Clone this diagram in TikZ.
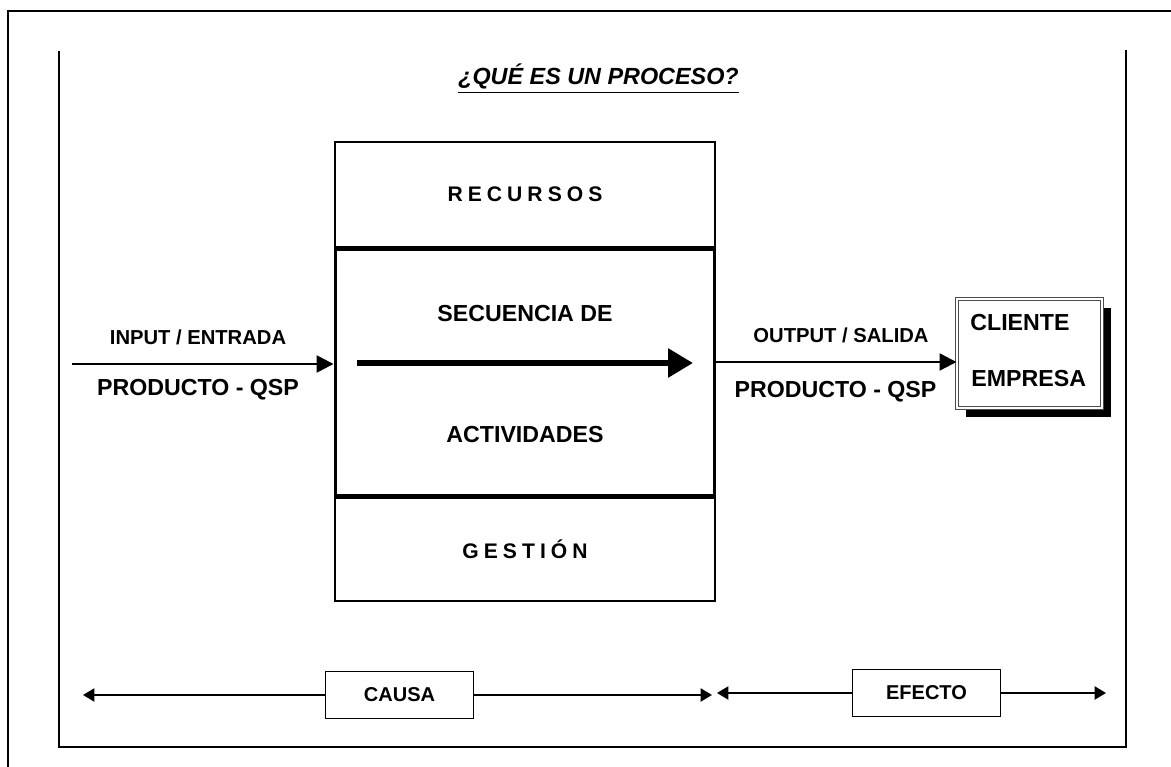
\documentclass[tikz,border=0pt]{standalone}
\usepackage{fontspec}
\setmainfont{Liberation Sans}
\usepackage{tikz}
\usetikzlibrary{arrows.meta}
\usetikzlibrary{positioning}
\usetikzlibrary{shadows}

\tikzset{
  big text/.style = {font = \bfseries\fontsize{13.2}{15}\selectfont, inner sep = 0pt},
  small text/.style = {font = \bfseries\fontsize{11.5}{13}\selectfont, inner sep = 0pt},
  spaced text/.style = {font = \bfseries\fontsize{12}{14}\selectfont\addfontfeatures{LetterSpace = 24}},
  stage box/.style = {draw, line width = 1.1pt, minimum width = 7.6cm, inner sep = 0pt},
  tag box/.style = {draw, line width = .8pt, minimum width = 2.95cm, minimum height = .94cm,
    font = \bfseries\fontsize{11.4}{13}\selectfont},
  flow/.style = {line width = 1.4pt, -{Triangle[length = 9.6pt, width = 9.6pt]}},
  span/.style = {line width = 1.1pt, -{Triangle[length = 6.5pt, width = 7.5pt]}}
}

\begin{document}
\begin{tikzpicture}[x = .02cm, y = -.02cm]
  \useasboundingbox (0,0) rectangle (1171,767);

% frames
  \draw[line width = 1.1pt] (8,767) -- (8,11) -- (1171,11);
  \draw[line width = .9pt] (59,51) -- (59,747) -- (1126,747) -- (1126,50);

% title
  \node[anchor = base, font = \bfseries\itshape\fontsize{13.3}{15}\selectfont] (title)
    at (598.5,85) {\underline{¿QUÉ ES UN PROCESO?}};

% process
  \node[stage box, minimum height = 2.1cm, spaced text] (recursos) at (525,194.5) {RECURSOS};
  \node[stage box, minimum height = 4.92cm, line width = 1.7pt, below = 0pt of recursos] (secuencia) {};
  \node[stage box, minimum height = 2.06cm, spaced text, below = 0pt of secuencia] (gestion) {GESTIÓN};
  \node[big text] (secuenciaTop) at (525,314) {SECUENCIA DE};
  \node[big text] (secuenciaBottom) at (525,435) {ACTIVIDADES};
  \coordinate (flowStart) at (357,363);
  \coordinate (flowEnd) at (693,363);
  \draw[line width = 3.4pt, -{Triangle[length = 14.2pt, width = 15.9pt]}] (flowStart) -- (flowEnd);

% input
  \coordinate (inputStart) at (72,364);
  \draw[flow] (inputStart) -- (inputStart -| secuencia.west);
  \node[small text] (inputLabel) at (198,337) {INPUT / ENTRADA};
  \node[big text] (inputProduct) at (198,390) {PRODUCTO - QSP};

% client
  \node[draw = black!70, fill = white, line width = .6pt, double = white, double distance = 1.5pt,
    minimum width = 2.9cm, minimum height = 2.18cm,
    drop shadow = {shadow xshift = .18cm, shadow yshift = -.18cm, opacity = 1, fill = black}]
    (cliente) at (1029.5,353.5) {};
  \node[big text, anchor = west] (clienteTop) at (970,323) {CLIENTE};
  \node[big text, anchor = west] (clienteBottom) at (971,379) {EMPRESA};

% output
  \coordinate (outputStart) at (715,362);
  \draw[flow] (outputStart) -- (outputStart -| cliente.west);
  \node[small text] (outputLabel) at (841,335) {OUTPUT / SALIDA};
  \node[big text] (outputProduct) at (835.5,392) {PRODUCTO - QSP};

% cause and effect
  \node[tag box] (causa) at (399.5,695) {CAUSA};
  \node[tag box] (efecto) at (926.5,693) {EFECTO};
  \coordinate (causaLeft) at (83,695);
  \coordinate (causaRight) at (712,695);
  \coordinate (efectoLeft) at (717,693);
  \coordinate (efectoRight) at (1106,693);
  \draw[span] (causa.west) -- (causaLeft);
  \draw[span] (causa.east) -- (causaRight);
  \draw[span] (efecto.west) -- (efectoLeft);
  \draw[span] (efecto.east) -- (efectoRight);

\end{tikzpicture}
\end{document}
